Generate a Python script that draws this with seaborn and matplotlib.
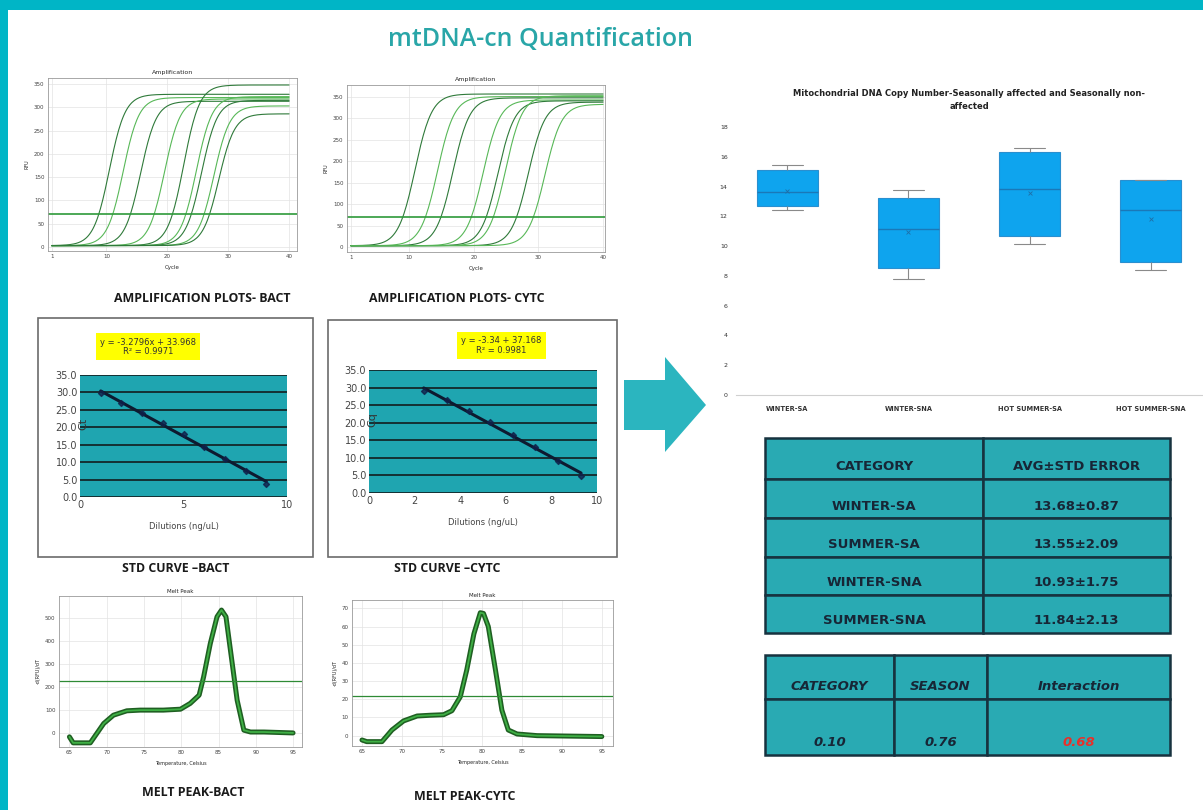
import numpy as np
import pandas as pd
import matplotlib
matplotlib.use("Agg")
import matplotlib.pyplot as plt
from matplotlib.patches import Rectangle, Polygon
import seaborn as sns

# ── data read off the poster ─────────────────────────────────
# amplification plots: threshold-crossing cycle (Ct) and plateau RFU per curve
amp_bact_ct = [8.8, 11.1, 14.0, 17.9, 20.9, 23.1, 24.0, 26.1, 27.0]
amp_bact_plateau = [325, 318, 310, 315, 345, 320, 312, 300, 283]
amp_cytc_ct = [9.1, 12.6, 15.0, 19.7, 22.0, 23.1, 26.7, 29.3]
amp_cytc_plateau = [354, 348, 345, 340, 338, 350, 335, 330]
amp_threshold = 70

# standard curves
std_bact_x = [1, 2, 3, 4, 5, 6, 7, 8, 9]
std_bact_ct = [29.7, 27.0, 24.1, 21.2, 18.1, 14.4, 11.0, 7.6, 3.8]
std_cytc_x = [2.4, 3.4, 4.4, 5.3, 6.3, 7.3, 8.3, 9.3]
std_cytc_ct = [29.0, 26.6, 23.2, 20.1, 16.5, 13.2, 9.2, 4.9]
std_bact_eq = "y = -3.2796x + 33.968\nR² = 0.9971"
std_cytc_eq = "y = -3.34 + 37.168\nR² = 0.9981"

# melt peaks
melt_bact_t = [65.0, 65.5, 67.8, 69.6, 70.9, 72.7, 74.5, 77.6, 79.9, 81.2, 82.4,
               83.0, 83.9, 84.8, 85.4, 86.0, 86.6, 87.5, 88.4, 89.3, 91.1, 95.0]
melt_bact_v = [-17, -43, -43, 41, 77, 96, 99, 99, 103, 128, 164,
               243, 388, 504, 533, 504, 359, 142, 12, 4, 4, 0]
melt_cytc_t = [65.0, 65.6, 67.5, 68.75, 70.2, 71.9, 73.5, 75.2, 76.25, 77.3, 78.1,
               79.0, 79.8, 80.2, 80.8, 81.7, 82.5, 83.3, 84.4, 86.9, 95.0]
melt_cytc_v = [-2.4, -3.3, -3.3, 3.1, 8.1, 10.8, 11.2, 11.5, 13.7, 21.4, 36,
               56, 67.6, 67.2, 60, 36, 14, 3.1, 0.9, 0, -0.5]
melt_bact_thr = 226
melt_cytc_thr = 22

# box plot: whisker low, q1, median, q3, whisker high
box_cats = ["WINTER-SA", "WINTER-SNA", "HOT SUMMER-SA", "HOT SUMMER-SNA"]
box_stats = [
    [12.40, 12.70, 13.64, 15.10, 15.47],
    [7.76, 8.56, 11.14, 13.24, 13.80],
    [10.13, 10.67, 13.86, 16.30, 16.60],
    [8.39, 8.94, 12.41, 14.47, 14.47],
]
box_means = [13.68, 10.93, 13.55, 11.84]

# tables
tbl1_header = ["CATEGORY", "AVG±STD ERROR"]
tbl1_cats = ["WINTER-SA", "SUMMER-SA", "WINTER-SNA", "SUMMER-SNA"]
tbl1_vals = ["13.68±0.87", "13.55±2.09", "10.93±1.75", "11.84±2.13"]
tbl2_header = ["CATEGORY", "SEASON", "Interaction"]
tbl2_vals = ["0.10", "0.76", "0.68"]

# ── setup ────────────────────────────────────────────────────
sns.set_theme(style="white")
plt.rcParams["font.family"] = ["DejaVu Sans"]

W, H = 1203, 810
TEAL = "#00b5c6"
TBL_TEAL = "#29aab3"
fig = plt.figure(figsize=(W / 100, H / 100), dpi=100)

bg = fig.add_axes([0, 0, 1, 1])
bg.set_xlim(0, W)
bg.set_ylim(H, 0)
bg.axis("off")


def px_axes(x0, y0, x1, y1):
    return fig.add_axes([x0 / W, 1 - y1 / H, (x1 - x0) / W, (y1 - y0) / H])


def small_ticks(ax, size=4):
    ax.tick_params(axis="both", labelsize=size, length=1.5, pad=1, colors="#444444")
    for s in ax.spines.values():
        s.set_color("#9a9a9a")
        s.set_linewidth(0.6)
    ax.grid(True, color="#e3e3e3", lw=0.5)


# frame bands
bg.add_patch(Rectangle((0, 0), W, 10, color=TEAL, lw=0))
bg.add_patch(Rectangle((0, 0), 8, H, color=TEAL, lw=0))

bg.text(541, 40, "mtDNA-cn Quantification", ha="center", va="center",
        fontsize=18, color="#29a6a8", family="Open Sans", weight="semibold")

# ── amplification plots ──────────────────────────────────────
K = 1.3
cycles = np.arange(1, 40.01, 0.2)


def amp_panel(box, cts, plateaus, xlim, ylim):
    ax = px_axes(*box)
    rows = []
    for i, (ct, p) in enumerate(zip(cts, plateaus)):
        mid = ct + K * np.log(p / amp_threshold - 1)
        rfu = 3 + p / (1 + np.exp(-(cycles - mid) / K))
        rows.append(pd.DataFrame({"cycle": cycles, "rfu": rfu, "curve": f"c{i}"}))
    df = pd.concat(rows)
    pal = ["#2f7a3a" if i % 2 == 0 else "#58b858" for i in range(len(cts))]
    sns.lineplot(data=df, x="cycle", y="rfu", hue="curve", palette=pal,
                 legend=False, ax=ax, lw=0.8, estimator=None)
    ax.axhline(amp_threshold, color="#2e9a3a", lw=1.2)
    ax.set_xlim(*xlim)
    ax.set_ylim(*ylim)
    ax.set_xticks([1, 10, 20, 30, 40])
    ax.set_yticks(range(0, 351, 50))
    small_ticks(ax)
    ax.set_title("Amplification", fontsize=4.5, pad=3)
    ax.set_xlabel("Cycle", fontsize=4, labelpad=4)
    ax.set_ylabel("RFU", fontsize=3.5, labelpad=3)
    return ax


amp_panel((48, 78, 297, 251), amp_bact_ct, amp_bact_plateau, (0.4, 41.3), (-8.6, 363))
amp_panel((347, 85, 605, 252), amp_cytc_ct, amp_cytc_plateau, (0.4, 40.3), (-11.7, 378))

lab = dict(ha="center", va="center", fontsize=8.9, color="#1a1a1a",
           family="Open Sans", weight="bold")
bg.text(202, 298, "AMPLIFICATION PLOTS- BACT", **lab)
bg.text(457, 298, "AMPLIFICATION PLOTS- CYTC", **lab)

# ── standard curves ──────────────────────────────────────────
bg.add_patch(Rectangle((38, 318), 275, 239, fill=False, ec="#6b6b6b", lw=1.2))
bg.add_patch(Rectangle((328, 320), 289, 237, fill=False, ec="#6b6b6b", lw=1.2))


def std_panel(box, xs, ys, xticks, eq, eq_x, eq_y, ylab):
    ax = px_axes(*box)
    ax.set_facecolor("#1fa5b0")
    sns.regplot(x=xs, y=ys, ci=None, ax=ax, marker="D",
                scatter_kws=dict(s=9, color="#10204a", zorder=4),
                line_kws=dict(color="#0d1a30", lw=2.2, zorder=3))
    ax.set_xlim(0, 10)
    ax.set_ylim(0, 35)
    ax.set_xticks(xticks)
    ax.set_yticks(range(0, 36, 5))
    ax.set_yticklabels([f"{v:.1f}" for v in range(0, 36, 5)])
    ax.yaxis.grid(True, color="#111111", lw=1.1)
    ax.xaxis.grid(False)
    ax.tick_params(labelsize=7, length=0, pad=2, colors="#444444")
    for s in ax.spines.values():
        s.set_visible(False)
    ax.set_xlabel("Dilutions (ng/uL)", fontsize=6, color="#444444", labelpad=9)
    ax.set_ylabel("")
    ax.text(0.015, 0.6, ylab, transform=ax.transAxes, rotation=90, fontsize=8,
            color="#333333", ha="center", va="center")
    ax.text(eq_x, eq_y, eq, transform=ax.transAxes, ha="center", va="center",
            fontsize=6, color="#333333", linespacing=1.1,
            bbox=dict(boxstyle="square,pad=0.5", fc="#ffff00", ec="none"))
    return ax


std_panel((80, 375, 287, 497), std_bact_x, std_bact_ct, [0, 5, 10], std_bact_eq,
          0.33, 1.23, "Ct")
std_panel((369, 370, 597, 493), std_cytc_x, std_cytc_ct, [0, 2, 4, 6, 8, 10],
          std_cytc_eq, 0.58, 1.2, "Cq")

bg.text(176, 568, "STD CURVE –BACT", **lab)
bg.text(447, 569, "STD CURVE –CYTC", **lab)

# ── melt peaks ───────────────────────────────────────────────


def melt_panel(box, ts, vs, thr, xlim, ylim, yticks):
    ax = px_axes(*box)
    sns.lineplot(x=ts, y=vs, ax=ax, color="#1f5f22", lw=3.6)
    sns.lineplot(x=ts, y=vs, ax=ax, color="#3fb045", lw=1.3)
    ax.axhline(thr, color="#2e8a35", lw=0.9)
    ax.set_xlim(*xlim)
    ax.set_ylim(*ylim)
    ax.set_xticks(range(65, 96, 5))
    ax.set_yticks(yticks)
    small_ticks(ax)
    ax.set_title("Melt Peak", fontsize=4, pad=2)
    ax.set_xlabel("Temperature, Celsius", fontsize=3.5, labelpad=4)
    ax.set_ylabel("-d(RFU)/dT", fontsize=3.5, labelpad=3)
    return ax


melt_panel((59, 596, 302, 747), melt_bact_t, melt_bact_v, melt_bact_thr,
           (63.6, 96.2), (-61, 594), range(0, 501, 100))
melt_panel((352, 600, 613, 746), melt_cytc_t, melt_cytc_v, melt_cytc_thr,
           (63.75, 96.4), (-5.7, 74.6), range(0, 71, 10))

bg.text(193, 793, "MELT PEAK-BACT", **lab)
bg.text(465, 797, "MELT PEAK-CYTC", **lab)

# ── arrow ────────────────────────────────────────────────────
bg.add_patch(Polygon([(624, 380), (665, 380), (665, 357), (706, 405),
                      (665, 452), (665, 430), (624, 430)],
                     closed=True, color="#2bb5bf", lw=0))

# ── box plot ─────────────────────────────────────────────────
box_df = pd.DataFrame({
    "cat": np.repeat(box_cats, 5),
    "val": np.concatenate(box_stats),
})
bx = px_axes(736, 127, 1202, 395)
sns.boxplot(data=box_df, x="cat", y="val", order=box_cats, ax=bx, width=0.5,
            color="#0ea4ee", saturation=1, linewidth=0.8, linecolor="#2a8fcf",
            whis=3, fliersize=0,
            whiskerprops=dict(color="#8a8a8a", lw=0.8),
            capprops=dict(color="#8a8a8a", lw=0.8),
            medianprops=dict(color="#1a78b8", lw=1.0))
sns.scatterplot(x=box_cats, y=box_means, ax=bx, marker="x", color="#1f6fa8",
                s=8, linewidth=0.6, zorder=5)
bx.set_ylim(0, 18)
bx.set_yticks(range(0, 19, 2))
bx.set_xlabel("")
bx.set_ylabel("")
bx.tick_params(axis="y", labelsize=4.5, length=0, pad=6, colors="#333333")
bx.tick_params(axis="x", labelsize=4.8, length=0, pad=8, colors="#333333")
for t in bx.get_xticklabels():
    t.set_fontweight("bold")
for side in ["left", "right", "top"]:
    bx.spines[side].set_visible(False)
bx.spines["bottom"].set_color("#d0d0d0")
bx.spines["bottom"].set_linewidth(0.8)
bx.set_title("Mitochondrial DNA Copy Number-Seasonally affected and Seasonally non-\naffected",
             fontsize=6, weight="bold", color="#222222", pad=13, linespacing=1.5)

# ── tables ───────────────────────────────────────────────────
EDGE = "#17323f"
txt = dict(ha="center", va="center", fontsize=9.5, color="#172636", weight="bold")


def cell(x0, y0, x1, y1):
    bg.add_patch(Rectangle((x0, y0), x1 - x0, y1 - y0, fc=TBL_TEAL, ec=EDGE, lw=1.8))


rows1 = [438, 479, 518, 557, 595, 633]
cols1 = [765, 983, 1170]
for r in range(5):
    for c in range(2):
        cell(cols1[c], rows1[r], cols1[c + 1], rows1[r + 1])
for c in range(2):
    cx = (cols1[c] + cols1[c + 1]) / 2
    bg.text(cx, rows1[1] - 12, tbl1_header[c], **txt)
    col = tbl1_cats if c == 0 else tbl1_vals
    for r, s in enumerate(col):
        bg.text(cx, rows1[r + 2] - 12, s, **txt)

rows2 = [655, 699, 755]
cols2 = [765, 894, 987, 1170]
for r in range(2):
    for c in range(3):
        cell(cols2[c], rows2[r], cols2[c + 1], rows2[r + 1])
for c in range(3):
    cx = (cols2[c] + cols2[c + 1]) / 2
    bg.text(cx, rows2[1] - 12, tbl2_header[c], style="italic", **txt)
    t2 = dict(txt)
    if c == 2:
        t2["color"] = "#e8302a"
    bg.text(cx, rows2[2] - 13, tbl2_vals[c], style="italic", **t2)

fig.savefig("out.png", dpi=100)
